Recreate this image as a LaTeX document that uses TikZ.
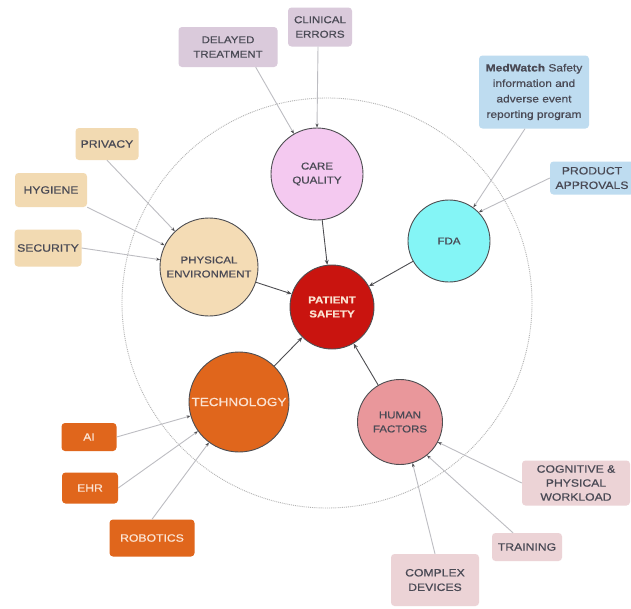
\documentclass[tikz,border=0pt]{standalone}
\usepackage{fontspec}
\setmainfont{Liberation Sans}[FakeStretch=1.15, FakeBold=0.7]
\usetikzlibrary{arrows.meta}
\definecolor{psred}{HTML}{C9140F}
\definecolor{cqpink}{HTML}{F4C9F0}
\definecolor{fdacyan}{HTML}{84F5F6}
\definecolor{petan}{HTML}{F4DCB5}
\definecolor{techor}{HTML}{E0661C}
\definecolor{hfpink}{HTML}{E9979B}
\definecolor{boxpurple}{HTML}{DACADB}
\definecolor{boxblue}{HTML}{BEDCF0}
\definecolor{boxtan}{HTML}{F2DAB2}
\definecolor{boxpink}{HTML}{ECD3D6}
\definecolor{linegrey}{HTML}{BDBDC2}
\definecolor{darkline}{HTML}{4E4E52}
\definecolor{txt}{HTML}{4A4A55}
\definecolor{paletxt}{HTML}{FBE3D2}
\tikzset{
  hub/.style={circle, draw=darkline, line width=0.9pt, align=center, inner sep=0pt, text=txt, font=\fontsize{10}{14}\selectfont},
  leaf/.style={rounded corners=3.5pt, align=center, inner sep=0pt, text=txt, font=\fontsize{10.6}{14.5}\selectfont},
  thin link/.style={draw=linegrey, line width=0.9pt, -{Stealth[length=4pt,width=3pt,color=darkline]}},
  main link/.style={draw=darkline, line width=0.9pt, -{Stealth[length=5pt,width=4pt]}}
}
\begin{document}
\begin{tikzpicture}[x=1pt,y=-1pt]
\useasboundingbox (0,0) rectangle (631,608);
\fill[white] (0,0) rectangle (631,608);
\draw[gray!60, densely dotted, line width=0.9pt] (327,303) circle[radius=205];

% hubs
\node[hub, fill=psred, text=paletxt, minimum size=84pt, font=\fontsize{10}{14}\selectfont\bfseries] (ps) at (332,307) {PATIENT\\SAFETY};
\node[hub, fill=cqpink, minimum size=92pt] (cq) at (317,174) {CARE\\QUALITY};
\node[hub, fill=fdacyan, minimum size=82pt] (fda) at (449,241) {FDA};
\node[hub, fill=petan, minimum size=98pt] (pe) at (209,267) {PHYSICAL\\ENVIRONMENT};
\node[hub, fill=techor, text=paletxt, minimum size=100pt, font=\fontsize{11.8}{14}\selectfont] (tech) at (239,402) {TECHNOLOGY};
\node[hub, fill=hfpink, minimum size=85pt] (hf) at (400,422) {HUMAN\\FACTORS};

% leaves
\node[leaf, fill=boxpurple, minimum width=99pt, minimum height=40pt, font=\fontsize{10}{14.5}\selectfont] (dt) at (228,47) {DELAYED\\TREATMENT};
\node[leaf, fill=boxpurple, minimum width=64pt, minimum height=39pt, font=\fontsize{10}{14.5}\selectfont] (ce) at (320,27) {CLINICAL\\ERRORS};
\node[leaf, fill=boxblue, minimum width=110pt, minimum height=73pt, font=\fontsize{10.4}{15.5}\selectfont] (mw) at (534,92) {\textbf{MedWatch} Safety\\information and\\adverse event\\reporting program};
\node[leaf, fill=boxblue, minimum width=84pt, minimum height=33pt] (pa) at (592,178) {PRODUCT\\APPROVALS};
\node[leaf, fill=boxtan, minimum width=63pt, minimum height=32pt] (pr) at (107,144) {PRIVACY};
\node[leaf, fill=boxtan, minimum width=72pt, minimum height=34pt] (hy) at (51,190) {HYGIENE};
\node[leaf, fill=boxtan, minimum width=67pt, minimum height=37pt] (se) at (48,248) {SECURITY};
\node[leaf, fill=techor, text=paletxt, minimum width=55pt, minimum height=28pt] (ai) at (89,437) {AI};
\node[leaf, fill=techor, text=paletxt, minimum width=56pt, minimum height=31pt] (ehr) at (90,488) {EHR};
\node[leaf, fill=techor, text=paletxt, minimum width=85pt, minimum height=37pt] (rob) at (152,538) {ROBOTICS};
\node[leaf, fill=boxpink, minimum width=108pt, minimum height=45pt, font=\fontsize{10.6}{14}\selectfont] (cw) at (576,483) {COGNITIVE \&\\PHYSICAL\\WORKLOAD};
\node[leaf, fill=boxpink, minimum width=70pt, minimum height=28pt] (tr) at (527,547) {TRAINING};
\node[leaf, fill=boxpink, minimum width=88pt, minimum height=52pt] (cd) at (435,580) {COMPLEX\\DEVICES};

% leaf links
\draw[thin link] (dt.south east) ++(-22,0) coordinate (dts) -- (cq);
\draw[thin link] (ce.south) ++(-2,0) coordinate (ces) -- (cq.north);
\draw[thin link] (mw.south) ++(-9,0) coordinate (mws) -- (fda.54);
\draw[thin link] (pa.west) -- (fda.44);
\draw[thin link] (pr.south) -- (pe);
\draw[thin link] (hy.south east) -- (pe);
\draw[thin link] (se.east) -- (pe);
\draw[thin link] (ai.east) -- (tech);
\draw[thin link] (ehr.east) -- (tech);
\draw[thin link] (rob.north) -- (tech);
\draw[thin link] (cw.west) -- (hf.-28);
\draw[thin link] (tr.north) ++(-14,0) coordinate (trn) -- (hf.-51);
\draw[thin link] (cd.north) -- (hf.-73);

% main links
\draw[main link] (cq) -- (ps);
\draw[main link] (fda) -- (ps);
\draw[main link] (pe) -- (ps);
\draw[main link] (tech) -- (ps);
\draw[main link] (hf) -- (ps);
\end{tikzpicture}
\end{document}
